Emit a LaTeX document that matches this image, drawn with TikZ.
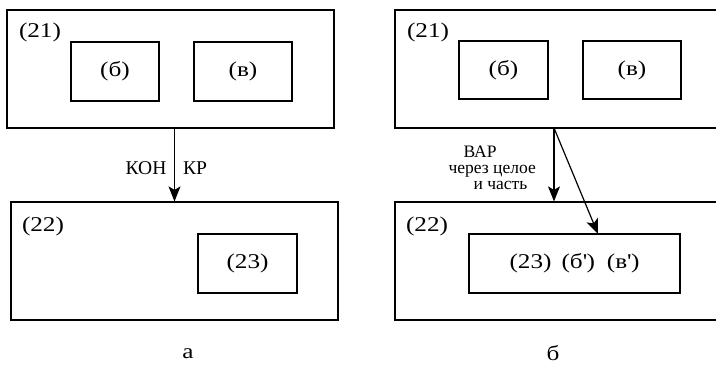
\documentclass[tikz,border=0pt]{standalone}
\usepackage{fontspec}
\setmainfont{Liberation Serif}
\newfontfamily\widefont[FakeStretch=1.2]{Liberation Serif}
\usepackage{tikz}
\usetikzlibrary{arrows.meta}
\usetikzlibrary{positioning}
\tikzset{
  box/.style={draw,rectangle,inner sep=0pt},
  lbl/.style={inner sep=0pt,font=\widefont\fontsize{21}{24}\selectfont},
  txt/.style={inner sep=0pt,font=\rmfamily\fontsize{19.5}{22}\selectfont},
  via/.style={inner sep=0pt,align=left,font=\rmfamily\fontsize{17.5}{16}\selectfont},
  arr/.style={-{Stealth[length=15pt,width=12pt,inset=3.5pt]}}
}
\begin{document}
\begin{tikzpicture}[x=1pt,y=-1pt,line width=1.2pt]
\useasboundingbox (0,0) rectangle (716,366);
\clip (0,0) rectangle (716,366);
% a
\node[box,minimum width=327pt,minimum height=118pt] (a21) at (170.5,69) {};
\node[lbl] (a21t) at (40,32) {(21)};
\node[box,lbl,minimum width=88pt,minimum height=59pt] (ab) at (115,71.5) {(б)};
\node[box,lbl,minimum width=98pt,minimum height=59pt] (av) at (243,71.5) {(в)};
\node[box,minimum width=327pt,minimum height=118pt] (a22) at (174.5,261) {};
\node[lbl] (a22t) at (43,226) {(22)};
\node[box,lbl,minimum width=99pt,minimum height=59pt] (a23) at (247.5,263.5) {(23)};
\draw[arr] (a22.north |- a21.south) -- (a22.north);
\node[txt] (akon) at (146,168.5) {КОН};
\node[txt] (akr) at (195,168.5) {КР};
\node[lbl] (acap) at (188,354) {а};
% б
\node[box,minimum width=327pt,minimum height=118pt] (b21) at (558.5,69) {};
\node[lbl] (b21t) at (428,32) {(21)};
\node[box,lbl,minimum width=89pt,minimum height=58pt] (bb) at (503.5,70) {(б)};
\node[box,lbl,minimum width=98pt,minimum height=58pt] (bv) at (632,70) {(в)};
\node[box,minimum width=327pt,minimum height=118pt] (b22) at (558.5,261) {};
\node[lbl] (b22t) at (427,226) {(22)};
\node[box,lbl,minimum width=211pt,minimum height=59pt] (b23) at (574.5,263.5)
  {(23)\hspace{10pt}(б\textquotesingle)\hspace{12pt}(в\textquotesingle)};
\coordinate (bfork) at (554,128);
\coordinate (bend) at (598,234);
\draw[arr] (bfork) -- (bfork |- b22.north);
\draw[arr] (bfork) -- (bend);
\node[via,anchor=north west] (bvia) at (448,145)
  {\hspace*{15pt}ВАР\\через целое\\\hspace*{25pt}и часть};
\node[lbl] (bcap) at (553,353) {б};
\end{tikzpicture}
\end{document}
